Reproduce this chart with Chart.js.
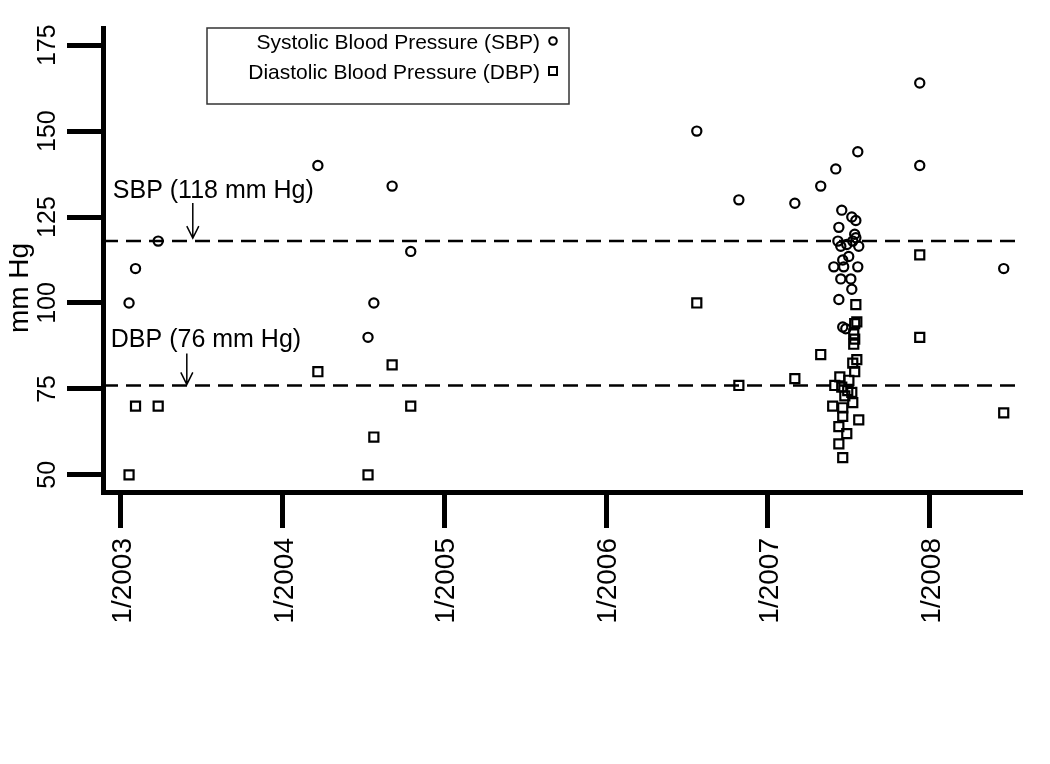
<!DOCTYPE html>
<html>
<head>
<meta charset="utf-8">
<title>Blood pressure</title>
<script src="https://cdn.jsdelivr.net/npm/chart.js@4.4.1/dist/chart.umd.min.js"></script>
<style>
  html, body { margin: 0; padding: 0; background: #fff; }
  canvas { display: block; }
</style>
</head>
<body>
<canvas id="chartTension" width="1050" height="764"></canvas>
<script>
// axes
const xTickYears = [2003, 2004, 2005, 2006, 2007, 2008];
const xTickLabels = ['1/2003', '1/2004', '1/2005', '1/2006', '1/2007', '1/2008'];
const yTicks = [50, 75, 100, 125, 150, 175];

// systolic (dates en annee decimale)
const sbpDates = [
    2003.051, 2003.091, 2003.231, 2004.218, 2004.528, 2004.564, 2004.677, 2004.792,
    2006.560, 2006.820, 2007.166, 2007.326, 2007.938, 2007.938, 2008.457,
    2007.419, 2007.555, 2007.456, 2007.518, 2007.543, 2007.438, 2007.536, 2007.543,
    2007.432, 2007.524, 2007.450, 2007.487, 2007.561, 2007.499, 2007.462, 2007.407,
    2007.468, 2007.555, 2007.450, 2007.512, 2007.518, 2007.438, 2007.462, 2007.481
];
const sbpValues = [
    100, 110, 118, 140, 90, 100, 134, 115,
    150, 130, 129, 134, 164, 140, 110,
    139, 144, 127, 125, 124, 122, 120, 119,
    118, 118, 116.5, 117, 116.5, 113.5, 112.5, 110.5,
    110.5, 110.5, 107, 107, 104, 101, 93, 92.5
];

// diastolic
const dbpDates = [
    2003.051, 2003.091, 2003.231, 2004.218, 2004.528, 2004.564, 2004.677, 2004.792,
    2006.560, 2006.820, 2007.166, 2007.326, 2007.938, 2007.938, 2008.457,
    2007.543, 2007.549, 2007.536, 2007.530, 2007.536, 2007.530, 2007.549, 2007.524,
    2007.536, 2007.444, 2007.500, 2007.413, 2007.456, 2007.493, 2007.518, 2007.475,
    2007.524, 2007.400, 2007.462, 2007.462, 2007.561, 2007.438, 2007.487, 2007.438,
    2007.462
];
const dbpValues = [
    50, 70, 70, 80, 50, 61, 82, 70,
    100, 76, 78, 85, 114, 90, 68,
    99.5, 94.5, 94, 91, 89.5, 88, 83.5, 82.5,
    80, 78.5, 77.5, 76, 75.5, 74.5, 74, 73,
    71, 70, 69.5, 67, 66, 64, 62, 59,
    55
];

// lignes de reference
const sbpRef = 118;
const dbpRef = 76;

const X_MIN = 2002.89;
const X_MAX = 2008.57;
const FONT = '"Liberation Sans", Arial, Helvetica, sans-serif';

function drawArrow(ctx, x, yTip, len) {
    ctx.beginPath();
    ctx.moveTo(x, yTip - len);
    ctx.lineTo(x, yTip);
    ctx.moveTo(x - 6, yTip - 12);
    ctx.lineTo(x, yTip);
    ctx.lineTo(x + 6, yTip - 12);
    ctx.stroke();
}

const decorations = {
    id: 'decorations',
    afterDatasetsDraw(chart) {
        const ctx = chart.ctx;
        const xs = chart.scales.x;
        const ys = chart.scales.y;
        ctx.save();
        ctx.fillStyle = '#000';
        ctx.strokeStyle = '#000';
        ctx.textBaseline = 'alphabetic';

        // labels y, tournes
        ctx.font = '25px ' + FONT;
        ctx.textAlign = 'center';
        yTicks.forEach(v => {
            ctx.save();
            ctx.translate(55, ys.getPixelForValue(v));
            ctx.rotate(-Math.PI / 2);
            ctx.fillText(String(v), 0, 0);
            ctx.restore();
        });

        // labels x, tournes
        ctx.font = '28px ' + FONT;
        ctx.textAlign = 'right';
        xTickYears.forEach((v, i) => {
            ctx.save();
            ctx.translate(xs.getPixelForValue(v) + 10, 538);
            ctx.rotate(-Math.PI / 2);
            ctx.fillText(xTickLabels[i], 0, 0);
            ctx.restore();
        });

        // titre axe y
        ctx.font = '28px ' + FONT;
        ctx.textAlign = 'center';
        ctx.save();
        ctx.translate(28, 288);
        ctx.rotate(-Math.PI / 2);
        ctx.fillText('mm Hg', 0, 0);
        ctx.restore();

        // annotations
        ctx.lineWidth = 1.5;
        ctx.font = '25px ' + FONT;
        ctx.textAlign = 'left';
        const sx = xs.getPixelForValue(2003.445);
        const sy = ys.getPixelForValue(sbpRef) - 3;
        drawArrow(ctx, sx, sy, 35);
        ctx.fillText('SBP (118 mm Hg)', sx - 80, sy - 40);

        const dx = xs.getPixelForValue(2003.408);
        const dy = ys.getPixelForValue(dbpRef) - 1;
        drawArrow(ctx, dx, dy, 31);
        ctx.fillText('DBP (76 mm Hg)', dx - 76, dy - 37);

        // legende
        ctx.strokeStyle = '#333';
        ctx.lineWidth = 1.5;
        ctx.strokeRect(207, 28, 362, 76);
        ctx.font = '21px ' + FONT;
        ctx.textAlign = 'right';
        ctx.fillText('Systolic Blood Pressure (SBP)', 540, 49);
        ctx.fillText('Diastolic Blood Pressure (DBP)', 540, 79);
        ctx.strokeStyle = '#000';
        ctx.lineWidth = 2;
        ctx.beginPath();
        ctx.arc(553, 41, 3.8, 0, Math.PI * 2);
        ctx.stroke();
        ctx.strokeRect(549, 67, 8, 8);

        ctx.restore();
    }
};

function afficherGraphiqueTension() {
    const canvas = document.getElementById('chartTension');
    if (!canvas) {
        console.error("Canvas #chartTension introuvable !");
        return;
    }
    const ctx = canvas.getContext('2d');

    const sbpPoints = sbpDates.map((d, i) => ({ x: d, y: sbpValues[i] }));
    const dbpPoints = dbpDates.map((d, i) => ({ x: d, y: dbpValues[i] }));

    new Chart(ctx, {
        type: 'scatter',
        data: {
            datasets: [
                {
                    label: 'Systolic Blood Pressure (SBP)',
                    data: sbpPoints,
                    pointStyle: 'circle',
                    pointRadius: 4.6,
                    borderWidth: 2.2,
                    borderColor: '#000',
                    backgroundColor: 'rgba(0,0,0,0)'
                },
                {
                    label: 'Diastolic Blood Pressure (DBP)',
                    data: dbpPoints,
                    pointStyle: 'rect',
                    pointRadius: 6.4,
                    borderWidth: 2.2,
                    borderColor: '#000',
                    backgroundColor: 'rgba(0,0,0,0)'
                },
                {
                    type: 'line',
                    label: 'SBP ref',
                    data: [{ x: X_MIN, y: sbpRef }, { x: X_MAX, y: sbpRef }],
                    borderColor: '#000',
                    borderWidth: 2.5,
                    borderDash: [15, 8],
                    pointRadius: 0
                },
                {
                    type: 'line',
                    label: 'DBP ref',
                    data: [{ x: X_MIN, y: dbpRef }, { x: X_MAX, y: dbpRef }],
                    borderColor: '#000',
                    borderWidth: 2.5,
                    borderDash: [15, 8],
                    pointRadius: 0
                }
            ]
        },
        options: {
            responsive: false,
            animation: false,
            layout: { padding: { top: 28, right: 28, left: 0, bottom: 0 } },
            plugins: {
                legend: { display: false },
                tooltip: { enabled: false }
            },
            scales: {
                x: {
                    type: 'linear',
                    position: 'bottom',
                    min: X_MIN,
                    max: X_MAX,
                    border: { display: true, width: 5, color: '#000' },
                    grid: {
                        display: true,
                        drawOnChartArea: false,
                        drawTicks: true,
                        tickLength: 36,
                        tickWidth: 5,
                        tickColor: '#000'
                    },
                    ticks: { display: false },
                    afterBuildTicks: scale => {
                        scale.ticks = xTickYears.map(v => ({ value: v }));
                    },
                    afterFit: scale => { scale.height = 272; }
                },
                y: {
                    position: 'left',
                    min: 45,
                    max: 180,
                    border: { display: true, width: 5, color: '#000' },
                    grid: {
                        display: true,
                        drawOnChartArea: false,
                        drawTicks: true,
                        tickLength: 36,
                        tickWidth: 5,
                        tickColor: '#000'
                    },
                    ticks: { display: false },
                    afterBuildTicks: scale => {
                        scale.ticks = yTicks.map(v => ({ value: v }));
                    },
                    afterFit: scale => { scale.width = 103; }
                }
            }
        },
        plugins: [decorations]
    });
}

afficherGraphiqueTension();
</script>
</body>
</html>
